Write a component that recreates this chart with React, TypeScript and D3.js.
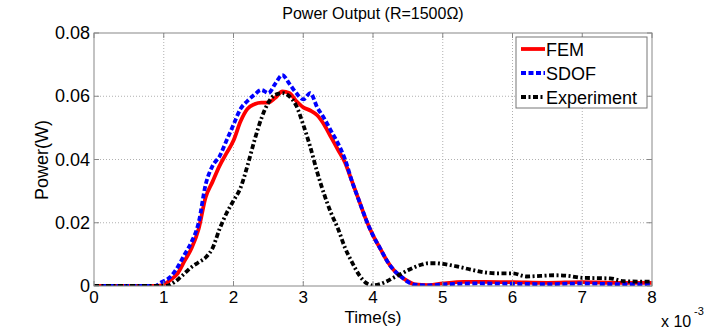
import React from "react";
import * as d3 from "d3";

const xTicks = [0, 1, 2, 3, 4, 5, 6, 7, 8];
const yTicks = [0, 0.02, 0.04, 0.06, 0.08];
const yTickLabels = ["0", "0.02", "0.04", "0.06", "0.08"];

const femT = [0, 0.9, 1.0, 1.1, 1.2, 1.3, 1.4, 1.5, 1.6, 1.7, 1.8, 1.9, 2.0, 2.1, 2.2, 2.3, 2.4, 2.5, 2.6, 2.7, 2.8, 2.9, 3.0, 3.1, 3.2, 3.3, 3.4, 3.5, 3.6, 3.7, 3.8, 3.9, 4.0, 4.1, 4.2, 4.3, 4.4, 4.5, 4.6, 4.8, 5.0, 5.3, 5.6, 6.0, 6.5, 7.0, 7.5, 8.0];
const femP = [0, 0, 0.0005, 0.002, 0.004, 0.008, 0.012, 0.018, 0.028, 0.033, 0.038, 0.042, 0.046, 0.052, 0.056, 0.0575, 0.058, 0.058, 0.0595, 0.0615, 0.061, 0.0585, 0.0565, 0.0555, 0.054, 0.051, 0.047, 0.043, 0.039, 0.033, 0.027, 0.021, 0.016, 0.012, 0.008, 0.005, 0.003, 0.0015, 0.0005, 0.0003, 0.0008, 0.0013, 0.0013, 0.0012, 0.001, 0.0012, 0.001, 0.001];

const sdofT = [0, 0.88, 0.95, 1.1, 1.2, 1.3, 1.4, 1.5, 1.6, 1.7, 1.8, 1.9, 2.0, 2.1, 2.2, 2.3, 2.4, 2.5, 2.6, 2.7, 2.8, 2.9, 3.0, 3.1, 3.2, 3.3, 3.4, 3.5, 3.6, 3.7, 3.8, 3.9, 4.0, 4.1, 4.2, 4.3, 4.4, 4.5, 4.6, 4.8, 5.0, 5.5, 6.0, 6.5, 7.0, 7.5, 8.0];
const sdofP = [0, 0, 0.001, 0.003, 0.006, 0.01, 0.014, 0.02, 0.032, 0.038, 0.041, 0.046, 0.051, 0.056, 0.0585, 0.0605, 0.062, 0.061, 0.064, 0.0667, 0.064, 0.061, 0.059, 0.061, 0.0565, 0.053, 0.049, 0.045, 0.04, 0.033, 0.027, 0.021, 0.016, 0.012, 0.008, 0.005, 0.003, 0.0013, 0.0004, 0.0002, 0.0005, 0.0008, 0.0007, 0.0006, 0.0008, 0.0006, 0.0006];

const expT = [0, 1.05, 1.1, 1.2, 1.3, 1.4, 1.5, 1.6, 1.7, 1.8, 1.9, 2.0, 2.1, 2.2, 2.3, 2.4, 2.5, 2.6, 2.7, 2.8, 2.9, 3.0, 3.1, 3.2, 3.3, 3.4, 3.5, 3.6, 3.7, 3.8, 3.9, 4.0, 4.1, 4.2, 4.3, 4.4, 4.5, 4.6, 4.7, 4.8, 4.9, 5.0, 5.2, 5.4, 5.6, 5.8, 6.0, 6.2, 6.4, 6.6, 6.8, 7.0, 7.2, 7.4, 7.6, 7.8, 8.0];
const expP = [0, 0, 0.0005, 0.002, 0.004, 0.006, 0.0075, 0.009, 0.012, 0.018, 0.023, 0.027, 0.031, 0.038, 0.046, 0.053, 0.058, 0.0605, 0.061, 0.06, 0.057, 0.051, 0.044, 0.036, 0.029, 0.023, 0.018, 0.012, 0.0075, 0.0035, 0.001, 0.0002, 0.0006, 0.0015, 0.0027, 0.0038, 0.005, 0.006, 0.0068, 0.0072, 0.0072, 0.007, 0.0062, 0.0052, 0.0043, 0.004, 0.004, 0.003, 0.0032, 0.0034, 0.0032, 0.0026, 0.0025, 0.0024, 0.0015, 0.0014, 0.0014];

const seriesNames = ["FEM", "SDOF", "Experiment"];

const W = 720, H = 333;
const L = 94, R = 652, T = 33, B = 286;
const FONT = "Liberation Sans, Arial, sans-serif";

export default function App() {
  const x = d3.scaleLinear().domain([0, 8]).range([L, R]);
  const y = d3.scaleLinear().domain([0, 0.08]).range([B, T]);
  const line = d3
    .line<[number, number]>()
    .x((d) => x(d[0]))
    .y((d) => y(d[1]))
    .curve(d3.curveMonotoneX);
  const zip = (a: number[], b: number[]) => a.map((v, i) => [v, b[i]] as [number, number]);

  const styles = [
    { color: "#ff0000", dash: "none", width: 3.8 },
    { color: "#0000ff", dash: "5,2.5", width: 3.8 },
    { color: "#000000", dash: "5,2.5,2,2.5", width: 3.8 },
  ];
  const data = [zip(femT, femP), zip(sdofT, sdofP), zip(expT, expP)];

  const legX = 516, legY = 37, legW = 131, legH = 71;
  const legRows = [49, 73, 97];

  return (
    <svg width={W} height={H} style={{ position: "absolute", left: 0, top: 0, background: "#fff" }} fontFamily={FONT}>
      <rect x={0} y={0} width={W} height={H} fill="#fff" />
      {xTicks.slice(1, -1).map((t) => (
        <line key={"gx" + t} x1={x(t)} x2={x(t)} y1={T} y2={B} stroke="#b0b0b0" strokeWidth={1} strokeDasharray="1,2" />
      ))}
      {yTicks.slice(1, -1).map((t) => (
        <line key={"gy" + t} x1={L} x2={R} y1={y(t)} y2={y(t)} stroke="#b0b0b0" strokeWidth={1} strokeDasharray="1,2" />
      ))}
      <defs>
        <clipPath id="clip">
          <rect x={L} y={T - 2} width={R - L} height={B - T + 2} />
        </clipPath>
      </defs>
      <g clipPath="url(#clip)">
        {data.map((d, i) => (
          <path key={i} d={line(d) || ""} fill="none" stroke={styles[i].color} strokeWidth={styles[i].width}
            strokeDasharray={styles[i].dash} strokeLinejoin="round" />
        ))}
      </g>
      <rect x={L} y={T} width={R - L} height={B - T} fill="none" stroke="#888" strokeWidth={1} />
      {xTicks.map((t) => (
        <g key={"tx" + t}>
          <line x1={x(t)} x2={x(t)} y1={B} y2={B - 5} stroke="#888" />
          <line x1={x(t)} x2={x(t)} y1={T} y2={T + 5} stroke="#888" />
          <text x={x(t)} y={B + 17} textAnchor="middle" fontSize={17} fill="#000">{t}</text>
        </g>
      ))}
      {yTicks.map((t, i) => (
        <g key={"ty" + t}>
          <line x1={L} x2={L + 5} y1={y(t)} y2={y(t)} stroke="#888" />
          <line x1={R} x2={R - 5} y1={y(t)} y2={y(t)} stroke="#888" />
          <text x={L - 4} y={y(t) + 6} textAnchor="end" fontSize={18} fill="#000">{yTickLabels[i]}</text>
        </g>
      ))}
      <text x={373} y={19} textAnchor="middle" fontSize={16} fill="#000">Power Output (R=1500Ω)</text>
      <text x={373} y={323} textAnchor="middle" fontSize={17} fill="#000">Time(s)</text>
      <text transform="translate(48,160) rotate(-90)" textAnchor="middle" fontSize={18} fill="#000">Power(W)</text>
      <text x={661} y={327} fontSize={16} fill="#000">x 10</text>
      <text x={694} y={315} fontSize={11} fill="#000">-3</text>
      <rect x={legX} y={legY} width={legW} height={legH} fill="#fff" stroke="#777" strokeWidth={1} />
      {seriesNames.map((n, i) => (
        <g key={n}>
          <line x1={521} x2={545} y1={legRows[i]} y2={legRows[i]} stroke={styles[i].color} strokeWidth={styles[i].width}
            strokeDasharray={styles[i].dash} />
          <text x={546} y={legRows[i] + 6.5} fontSize={18} fill="#000">{n}</text>
        </g>
      ))}
    </svg>
  );
}
